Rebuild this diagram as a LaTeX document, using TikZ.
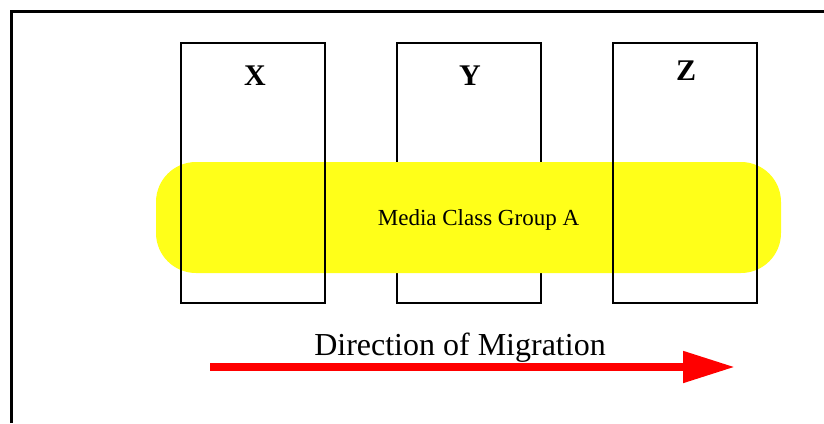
\documentclass[tikz,border=0pt]{standalone}
\usepackage{fontspec}
\setmainfont{Liberation Serif}
\usetikzlibrary{arrows.meta}
\definecolor{bandyellow}{RGB}{255,255,25}
\definecolor{migred}{RGB}{255,0,0}
\tikzset{
  drive/.style={draw, line width=2pt, minimum width=144pt, minimum height=260pt, inner sep=0pt},
  drivename/.style={font=\fontsize{30}{30}\selectfont\bfseries, inner sep=0pt},
  band/.style={fill=bandyellow, rounded corners=40pt, minimum width=625pt, minimum height=111pt, inner sep=0pt},
}
\begin{document}
\begin{tikzpicture}[x=1pt,y=-1pt]
  \useasboundingbox (0,0) rectangle (824,423);
  % outer frame (cut by the page edge)
  \draw[line width=3pt] (11.5,423) -- (11.5,11.5) -- (824,11.5);
  % middle drive lies under the band, the outer ones above it
  \node[drive] (y) at (469,173) {};
  \node[band] (group) at (468.5,217.5) {};
  \node[font=\fontsize{23}{23}\selectfont, anchor=base] (grouplabel) at (478.5,225) {Media Class Group A};
  \node[drive] (x) at (253,173) {};
  \node[drive] (z) at (685,173) {};
  \node[drivename] (xname) at (255,76) {X};
  \node[drivename] (yname) at (470,76) {Y};
  \node[drivename] (zname) at (686,71) {Z};
  % migration arrow
  \coordinate (migfrom) at (210,367);
  \coordinate (migto) at (735,367);
  \draw[migred, line width=8pt, -{Triangle[length=52pt,width=30pt]}] (migfrom) -- (migto);
  \node[font=\fontsize{32}{32}\selectfont, anchor=base] (migtext) at (460,355) {Direction of Migration};
\end{tikzpicture}
\end{document}
